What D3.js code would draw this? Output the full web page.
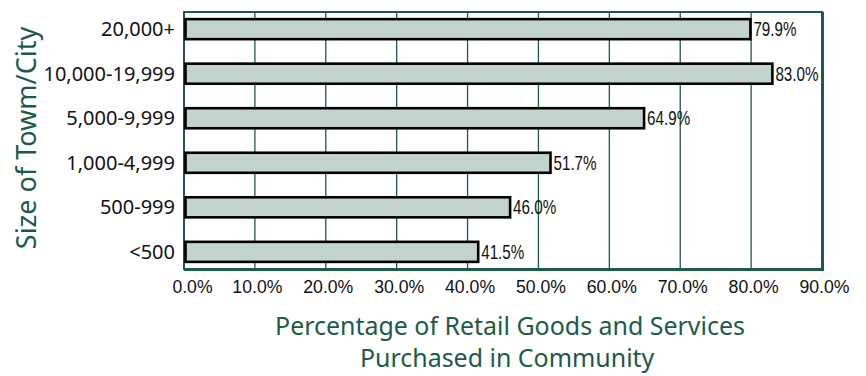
<!DOCTYPE html>
<html>
<head>
<meta charset="utf-8">
<script src="https://cdn.jsdelivr.net/npm/d3@7"></script>
<style>
  html, body { margin: 0; padding: 0; background: #fff; }
  svg { display: block; }
</style>
</head>
<body>
<svg id="chart" width="866" height="376"></svg>
<script>
// Town-size groups, top to bottom
const categories = ["20,000+", "10,000-19,999", "5,000-9,999", "1,000-4,999", "500-999", "<500"];
// Share of retail goods and services bought locally (%)
const values = [79.9, 83.0, 64.9, 51.7, 46.0, 41.5];
// Horizontal axis ticks (%)
const xTicks = [0, 10, 20, 30, 40, 50, 60, 70, 80, 90];

const green = "#1d5a47";
const barFill = "#c2d3cc";
const sans = "'Noto Sans', sans-serif";
const numFont = "'Liberation Sans', Arial, sans-serif";

const svg = d3.select("#chart");
const plot = { left: 184, right: 822, top: 12, bottom: 269 };

const x = d3.scaleLinear().domain([0, 90]).range([plot.left, plot.right]);
const y = d3.scaleBand().domain(categories).range([plot.top, plot.bottom])
  .paddingInner(0.55).paddingOuter(0.16);

// vertical gridlines
svg.append("g")
  .selectAll("line")
  .data(xTicks.slice(1, -1))
  .join("line")
  .attr("x1", d => x(d)).attr("x2", d => x(d))
  .attr("y1", plot.top).attr("y2", plot.bottom)
  .attr("stroke", green).attr("stroke-width", 1.3);

// plot frame
svg.append("rect")
  .attr("x", plot.left).attr("y", plot.top)
  .attr("width", plot.right - plot.left).attr("height", plot.bottom - plot.top)
  .attr("fill", "none").attr("stroke", green).attr("stroke-width", 2);
svg.append("path")
  .attr("d", `M${plot.right + 0.5},${plot.top}V${plot.bottom + 0.5}H${plot.left}`)
  .attr("fill", "none").attr("stroke", green).attr("stroke-width", 3);

// bars
svg.append("g")
  .selectAll("rect")
  .data(values)
  .join("rect")
  .attr("x", x(0) + 1.5)
  .attr("y", (d, i) => y(categories[i]))
  .attr("width", d => x(d) - x(0) - 1.5)
  .attr("height", y.bandwidth())
  .attr("fill", barFill)
  .attr("stroke", "#000")
  .attr("stroke-width", 2.6);

// value labels (condensed numerals)
svg.append("g")
  .selectAll("text")
  .data(values)
  .join("text")
  .attr("transform", (d, i) =>
    `translate(${x(d) + 3},${y(categories[i]) + y.bandwidth() / 2 + 7}) scale(0.76,1)`)
  .attr("font-family", numFont)
  .attr("font-size", 20)
  .attr("fill", "#111")
  .text(d => d.toFixed(1) + "%");

// category axis
const yAxis = svg.append("g")
  .attr("transform", `translate(${plot.left},0)`)
  .call(d3.axisLeft(y).tickSize(0).tickPadding(9));
yAxis.select(".domain").remove();
yAxis.selectAll("text")
  .attr("font-family", sans)
  .attr("font-size", 20)
  .attr("fill", "#111")
  .attr("dy", "0.34em");

// value axis
const xAxis = svg.append("g")
  .attr("transform", `translate(0,${plot.bottom})`)
  .call(d3.axisBottom(x).tickValues(xTicks).tickSize(0)
    .tickFormat(d => d.toFixed(1) + "%"));
xAxis.select(".domain").remove();
xAxis.selectAll("text")
  .attr("font-family", numFont)
  .attr("font-size", 19)
  .attr("fill", "#111")
  .attr("y", 0).attr("dy", 0)
  .attr("transform", d => `translate(${d === 0 ? 8 : 2},24) scale(0.93,1)`);

// axis titles
svg.append("text")
  .attr("transform", "translate(36,138) rotate(-90)")
  .attr("text-anchor", "middle")
  .attr("font-family", sans)
  .attr("font-size", 27)
  .attr("fill", green)
  .text("Size of Towm/City");

const titleLines = ["Percentage of Retail Goods and Services", "Purchased in Community"];
svg.append("g")
  .attr("transform", "translate(510,0) scale(0.96,1)")
  .selectAll("text")
  .data(titleLines)
  .join("text")
  .attr("x", (d, i) => i === 0 ? 0 : -3)
  .attr("y", (d, i) => 335 + i * 32)
  .attr("text-anchor", "middle")
  .attr("font-family", sans)
  .attr("font-size", 26)
  .attr("fill", green)
  .text(d => d);
</script>
</body>
</html>
